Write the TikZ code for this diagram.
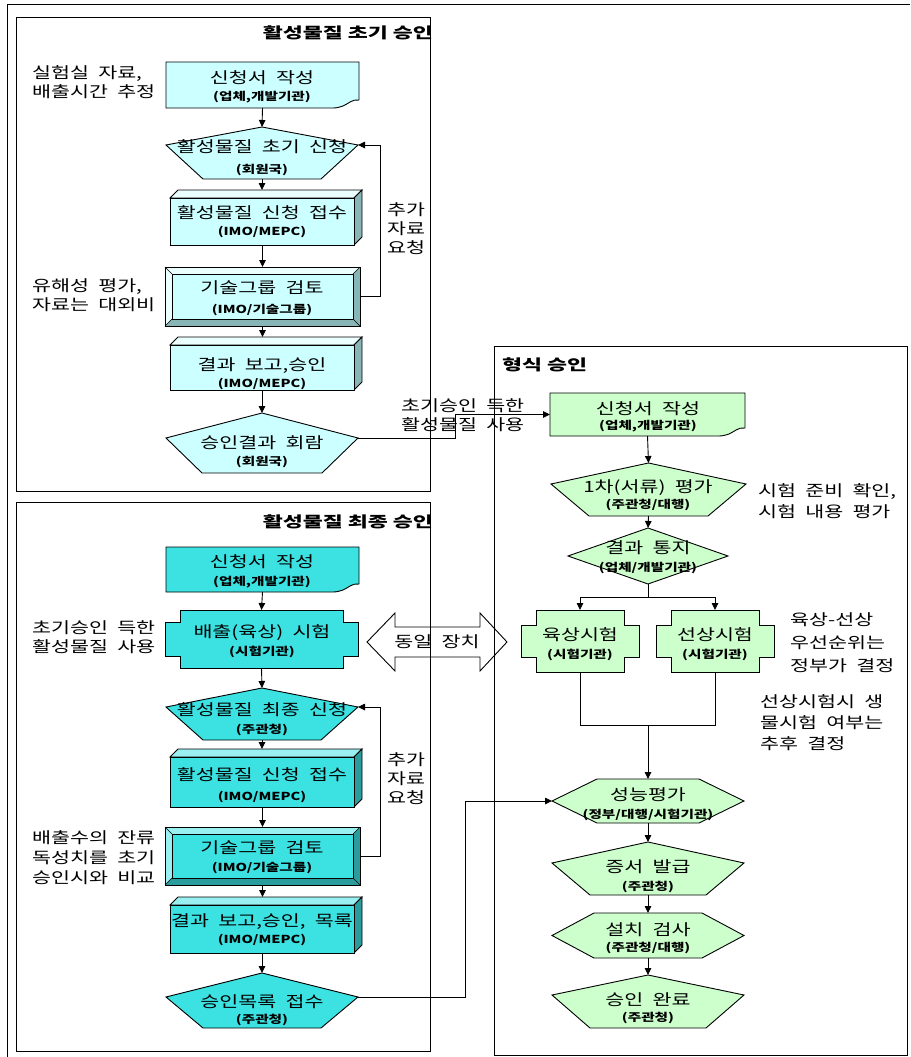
\documentclass[tikz,border=0pt]{standalone}
\usepackage{fontspec}
\newfontfamily\kr[FakeStretch=1.33,WordSpace=2]{Noto Sans CJK KR}
\newfontfamily\krt[FakeStretch=1.45]{Noto Sans CJK KR}
\usetikzlibrary{arrows.meta,calc}
\definecolor{lcyan}{HTML}{CCFFFF}
\definecolor{lcyanT}{HTML}{EBFFFF}
\definecolor{lcyanS}{HTML}{88B5B5}
\definecolor{turq}{HTML}{3CE1E1}
\definecolor{turqT}{HTML}{9AF0F0}
\definecolor{turqS}{HTML}{2A9C9C}
\definecolor{lgreen}{HTML}{CCFFCC}
\tikzset{
 shp/.style={draw=none, inner sep=0pt, outer sep=0pt, rectangle},
 outl/.style={draw=black, line width=0.9pt},
 main/.style={font=\kr\fontsize{15.5}{19}\selectfont, inner sep=0pt},
 sub/.style={font=\kr\bfseries\fontsize{11}{12}\selectfont, inner sep=0pt},
 side/.style={font=\kr\fontsize{15.5}{19}\selectfont, inner sep=0pt, align=left, anchor=west},
 sidec/.style={font=\kr\fontsize{15.5}{19}\selectfont, inner sep=0pt, align=center},
 ttl/.style={font=\krt\bfseries\fontsize{15}{18}\selectfont, inner sep=0pt},
 arr/.style={line width=0.9pt, -{Triangle[length=7pt,width=6.5pt]}},
 ln/.style={line width=0.9pt},
 frame/.style={line width=1pt}
}
% document shape: name,x1,y1,x2,y2,fill
\newcommand\docshape[6]{%
 \node[shp, minimum width={#4-#2}, minimum height={#5-#3}] (#1) at ({(#2+#4)/2},{(#3+#5)/2}) {};
 \draw[outl, fill=#6] (#2,#3) -- (#4,#3) -- (#4,{#5-8}) .. controls ({#4-7},{#5-9}) and ({#4-11},{#5-4}) .. ({#4-16},{#5-2}) .. controls ({#4-19},{#5-1}) and ({#4-22},{#5}) .. ({#4-26},{#5}) -- (#2,#5) -- cycle;}
% pentagon: name,x1,y1,ym,x2,y2,inset,fill
\newcommand\penta[8]{%
 \node[shp, minimum width={#5-#2}, minimum height={#6-#3}] (#1) at ({(#2+#5)/2},{(#3+#6)/2}) {};
 \draw[outl, fill=#8] ({(#2+#5)/2},#3) -- (#5,#4) -- ({#5-#7},#6) -- ({#2+#7},#6) -- (#2,#4) -- cycle;
 \coordinate (#1l) at (#2,#4); \coordinate (#1r) at (#5,#4);}
% hexagon: name,x1,y1,x2,y2,inset,fill
\newcommand\hexa[7]{%
 \node[shp, minimum width={#4-#2}, minimum height={#5-#3}] (#1) at ({(#2+#4)/2},{(#3+#5)/2}) {};
 \draw[outl, fill=#7] ({#2+#6},#3) -- ({#4-#6},#3) -- (#4,{(#3+#5)/2}) -- ({#4-#6},#5) -- ({#2+#6},#5) -- (#2,{(#3+#5)/2}) -- cycle;}
% diamond: name,x1,y1,x2,y2,fill
\newcommand\diam[6]{%
 \node[shp, minimum width={#4-#2}, minimum height={#5-#3}] (#1) at ({(#2+#4)/2},{(#3+#5)/2}) {};
 \draw[outl, fill=#6] ({(#2+#4)/2},#3) -- (#4,{(#3+#5)/2}) -- ({(#2+#4)/2},#5) -- (#2,{(#3+#5)/2}) -- cycle;}
% cross: name,x1,y1,x2,y2,nx,ny,fill
\newcommand\crossshape[8]{%
 \node[shp, minimum width={#4-#2}, minimum height={#5-#3}] (#1) at ({(#2+#4)/2},{(#3+#5)/2}) {};
 \draw[outl, fill=#8] ({#2+#6},#3) -- ({#4-#6},#3) -- ({#4-#6},{#3+#7}) -- (#4,{#3+#7}) -- (#4,{#5-#7}) -- ({#4-#6},{#5-#7}) -- ({#4-#6},#5) -- ({#2+#6},#5) -- ({#2+#6},{#5-#7}) -- (#2,{#5-#7}) -- (#2,{#3+#7}) -- ({#2+#6},{#3+#7}) -- cycle;}
% 3d box: name,x1,y1,x2,y2,d,front,top,side
\newcommand\threed[9]{%
 \node[shp, minimum width={#4-#2+#6}, minimum height={#5-#3+#6}] (#1) at ({(#2+#4+#6)/2},{(#3-#6+#5)/2}) {};
 \draw[outl, fill=#8] (#2,#3) -- ({#2+#6},{#3-#6}) -- ({#4+#6},{#3-#6}) -- (#4,#3) -- cycle;
 \draw[outl, fill=#9] (#4,#3) -- ({#4+#6},{#3-#6}) -- ({#4+#6},{#5-#6}) -- (#4,#5) -- cycle;
 \draw[outl, fill=#7] (#2,#3) rectangle (#4,#5);}
% bevel: name,x1,y1,x2,y2,b,face,light,dark
\newcommand\bevel[9]{%
 \node[shp, minimum width={#4-#2}, minimum height={#5-#3}] (#1) at ({(#2+#4)/2},{(#3+#5)/2}) {};
 \fill[#9] (#2,#3) rectangle (#4,#5);
 \fill[#8] (#2,#3) -- (#4,#3) -- ({#4-#6},{#3+#6}) -- ({#2+#6},{#3+#6}) -- ({#2+#6},{#5-#6}) -- (#2,#5) -- cycle;
 \draw[outl, fill=#7] ({#2+#6},{#3+#6}) rectangle ({#4-#6},{#5-#6});
 \draw[outl] (#2,#3) rectangle (#4,#5);
 \draw[line width=0.5pt] (#2,#3) -- ({#2+#6},{#3+#6}) (#4,#3) -- ({#4-#6},{#3+#6}) (#2,#5) -- ({#2+#6},{#5-#6}) (#4,#5) -- ({#4-#6},{#5-#6});}
\begin{document}
\begin{tikzpicture}[x=1pt,y=-1pt]
\useasboundingbox (0,0) rectangle (910,1057);
% double arrow (drawn below the frames)
\draw[ln, fill=white] (367,642) -- (395,613) -- (395,627) -- (480,627) -- (480,613) -- (507,642) -- (480,671) -- (480,657) -- (395,657) -- (395,671) -- cycle;
\node[main] (same) at (437,642) {동일 장치};
% frames
\draw[frame] (7,1057) -- (7,5) -- (910,5);
\draw[frame] (16,18) rectangle (430,491);
\draw[frame] (16,502) rectangle (430,1051);
\draw[frame] (494,346) rectangle (907,1055);
\node[ttl, anchor=east] (T1) at (433,33) {활성물질 초기 승인};
\node[ttl, anchor=east] (T2) at (433,522) {활성물질 최종 승인};
\node[ttl, anchor=west] (T3) at (502,365) {형식 승인};
% ---- top-left shapes
\docshape{A1}{166}{62}{359}{108}{lcyan}
\penta{A2}{166}{127}{145}{358}{179}{37}{lcyan}
\threed{A3}{170}{198}{354}{245}{8}{lcyan}{lcyanT}{lcyanS}
\bevel{A4}{165}{267}{360}{326}{7}{lcyan}{lcyanT}{lcyanS}
\threed{A5}{170}{345}{354}{390}{8}{lcyan}{lcyanT}{lcyanS}
\penta{A6}{166}{413}{438}{358}{473}{36}{lcyan}
% ---- bottom-left shapes
\docshape{C1}{166}{547}{359}{592}{turq}
\crossshape{C2}{165}{610}{358}{668}{15}{12}{turq}
\penta{C3}{166}{688}{707}{358}{740}{37}{turq}
\threed{C4}{170}{757}{354}{807}{8}{turq}{turqT}{turqS}
\bevel{C5}{165}{827}{360}{885}{7}{turq}{turqT}{turqS}
\threed{C6}{170}{905}{354}{953}{8}{turq}{turqT}{turqS}
\penta{C7}{166}{973}{997}{358}{1028}{37}{turq}
% ---- right shapes
\docshape{B1}{550}{393}{745}{436}{lgreen}
\penta{B2}{551}{463}{484}{746}{516}{38}{lgreen}
\diam{B3}{568}{528}{728}{584}{lgreen}
\crossshape{B4}{521}{610}{639}{672}{15}{15}{lgreen}
\crossshape{B5}{656}{610}{774}{672}{15}{15}{lgreen}
\hexa{B6}{552}{779}{744}{823}{45}{lgreen}
\penta{B7}{552}{842}{863}{744}{895}{38}{lgreen}
\hexa{B8}{552}{913}{744}{958}{42}{lgreen}
\penta{B9}{552}{975}{995}{744}{1028}{38}{lgreen}
% ---- texts in shapes
\node[main] (A1m) at (262,78) {신청서 작성};
\node[sub] (A1s) at (262,97) {(업체,개발기관)};
\node[main] (A2m) at (262,147) {활성물질 초기 신청};
\node[sub] (A2s) at (262,170) {(회원국)};
\node[main] (A3m) at (262,213) {활성물질 신청 접수};
\node[sub] (A3s) at (262,232) {(IMO/MEPC)};
\node[main] (A4m) at (262,288) {기술그룹 검토};
\node[sub] (A4s) at (262,310) {(IMO/기술그룹)};
\node[main] (A5m) at (262,366) {결과 보고,승인};
\node[sub] (A5s) at (262,384) {(IMO/MEPC)};
\node[main] (A6m) at (262,443) {승인결과 회람};
\node[sub] (A6s) at (262,462) {(회원국)};
\node[main] (C1m) at (262,562) {신청서 작성};
\node[sub] (C1s) at (262,582) {(업체,개발기관)};
\node[main] (C2m) at (262,633) {배출(육상) 시험};
\node[sub] (C2s) at (262,652) {(시험기관)};
\node[main] (C3m) at (262,710) {활성물질 최종 신청};
\node[sub] (C3s) at (262,730) {(주관청)};
\node[main] (C4m) at (262,775) {활성물질 신청 접수};
\node[sub] (C4s) at (262,797) {(IMO/MEPC)};
\node[main] (C5m) at (262,848) {기술그룹 검토};
\node[sub] (C5s) at (262,868) {(IMO/기술그룹)};
\node[main] (C6m) at (262,922) {결과 보고,승인, 목록};
\node[sub] (C6s) at (262,940) {(IMO/MEPC)};
\node[main] (C7m) at (262,1002) {승인목록 접수};
\node[sub] (C7s) at (262,1020) {(주관청)};
\node[main] (B1m) at (648,409) {신청서 작성};
\node[sub] (B1s) at (648,426) {(업체,개발기관)};
\node[main] (B2m) at (648,488) {1차(서류) 평가};
\node[sub] (B2s) at (648,505) {(주관청/대행)};
\node[main] (B3m) at (648,548) {결과 통지};
\node[sub] (B3s) at (648,568) {(업체/개발기관)};
\node[main] (B4m) at (580,635) {육상시험};
\node[sub] (B4s) at (580,655) {(시험기관)};
\node[main] (B5m) at (715,635) {선상시험};
\node[sub] (B5s) at (715,655) {(시험기관)};
\node[main] (B6m) at (648,795) {성능평가};
\node[sub] (B6s) at (648,815) {(정부/대행/시험기관)};
\node[main] (B7m) at (648,867) {증서 발급};
\node[sub] (B7s) at (648,887) {(주관청)};
\node[main] (B8m) at (648,930) {설치 검사};
\node[sub] (B8s) at (648,948) {(주관청/대행)};
\node[main] (B9m) at (648,1000) {승인 완료};
\node[sub] (B9s) at (648,1018) {(주관청)};
% ---- side notes
\node[side] (n1) at (32,82) {실험실 자료,\\배출시간 추정};
\node[side] (n2) at (32,295) {유해성 평가,\\자료는 대외비};
\node[sidec] (n3) at (406,229) {추가\\자료\\요청};
\node[side] (n4) at (401,415) {초기승인 득한\\활성물질 사용};
\node[side] (n5) at (32,637) {초기승인 득한\\활성물질 사용};
\node[sidec] (n6) at (406,779) {추가\\자료\\요청};
\node[side, font=\kr\fontsize{15.5}{20}\selectfont] (n7) at (32,858) {배출수의 잔류\\독성치를 초기\\승인시와 비교};
\node[side, font=\kr\fontsize{15.5}{21}\selectfont] (n8) at (758,501) {시험 준비 확인,\\시험 내용 평가};
\node[side, font=\kr\fontsize{15.5}{23}\selectfont] (n9) at (790,643) {육상-선상\\우선순위는\\정부가 결정};
\node[side, font=\kr\fontsize{15.5}{21}\selectfont] (n10) at (760,723) {선상시험시 생\\물시험 여부는\\추후 결정};
% ---- connectors top-left
\draw[arr] (A1.south) -- (A2.north);
\draw[arr] (A2.south) -- (A2.south |- A3.north);
\draw[arr] (A4.north |- A3.south) -- (A4.north);
\draw[arr] (A4.south) -- (A4.south |- A5.north);
\draw[arr] (A6.north |- A5.south) -- (A6.north);
\draw[arr] (A4.east) -- ++(20,0) |- (A2r);
\coordinate (j1) at (455,0);
\draw[arr] (A6r) -| (j1 |- B1.west) -- (B1.west);
% ---- connectors bottom-left
\draw[arr] (C1.south) -- (C2.north);
\draw[arr] (C2.south) -- (C3.north);
\draw[arr] (C3.south) -- (C3.south |- C4.north);
\draw[arr] (C5.north |- C4.south) -- (C5.north);
\draw[arr] (C5.south) -- (C5.south |- C6.north);
\draw[arr] (C7.north |- C6.south) -- (C7.north);
\draw[arr] (C5.east) -- ++(20,0) |- (C3r);
\coordinate (j2) at (465,0);
\draw[arr] (C7r) -| (j2 |- B6.west) -- (B6.west);
% ---- connectors right
\draw[arr] (B1.south) -- (B2.north);
\draw[arr] (B2.south) -- (B3.north);
\coordinate (s1) at (0,597);
\draw[ln] (B3.south) -- (B3.south |- s1);
\draw[ln] (B4.north |- s1) -- (B5.north |- s1);
\draw[arr] (B4.north |- s1) -- (B4.north);
\draw[arr] (B5.north |- s1) -- (B5.north);
\coordinate (s2) at (0,725);
\draw[ln] (B4.south) -- (B4.south |- s2) -- (B5.south |- s2) -- (B5.south);
\draw[arr] (B6.north |- s2) -- (B6.north);
\draw[arr] (B6.south) -- (B7.north);
\draw[arr] (B7.south) -- (B8.north);
\draw[arr] (B8.south) -- (B9.north);
\end{tikzpicture}
\end{document}
